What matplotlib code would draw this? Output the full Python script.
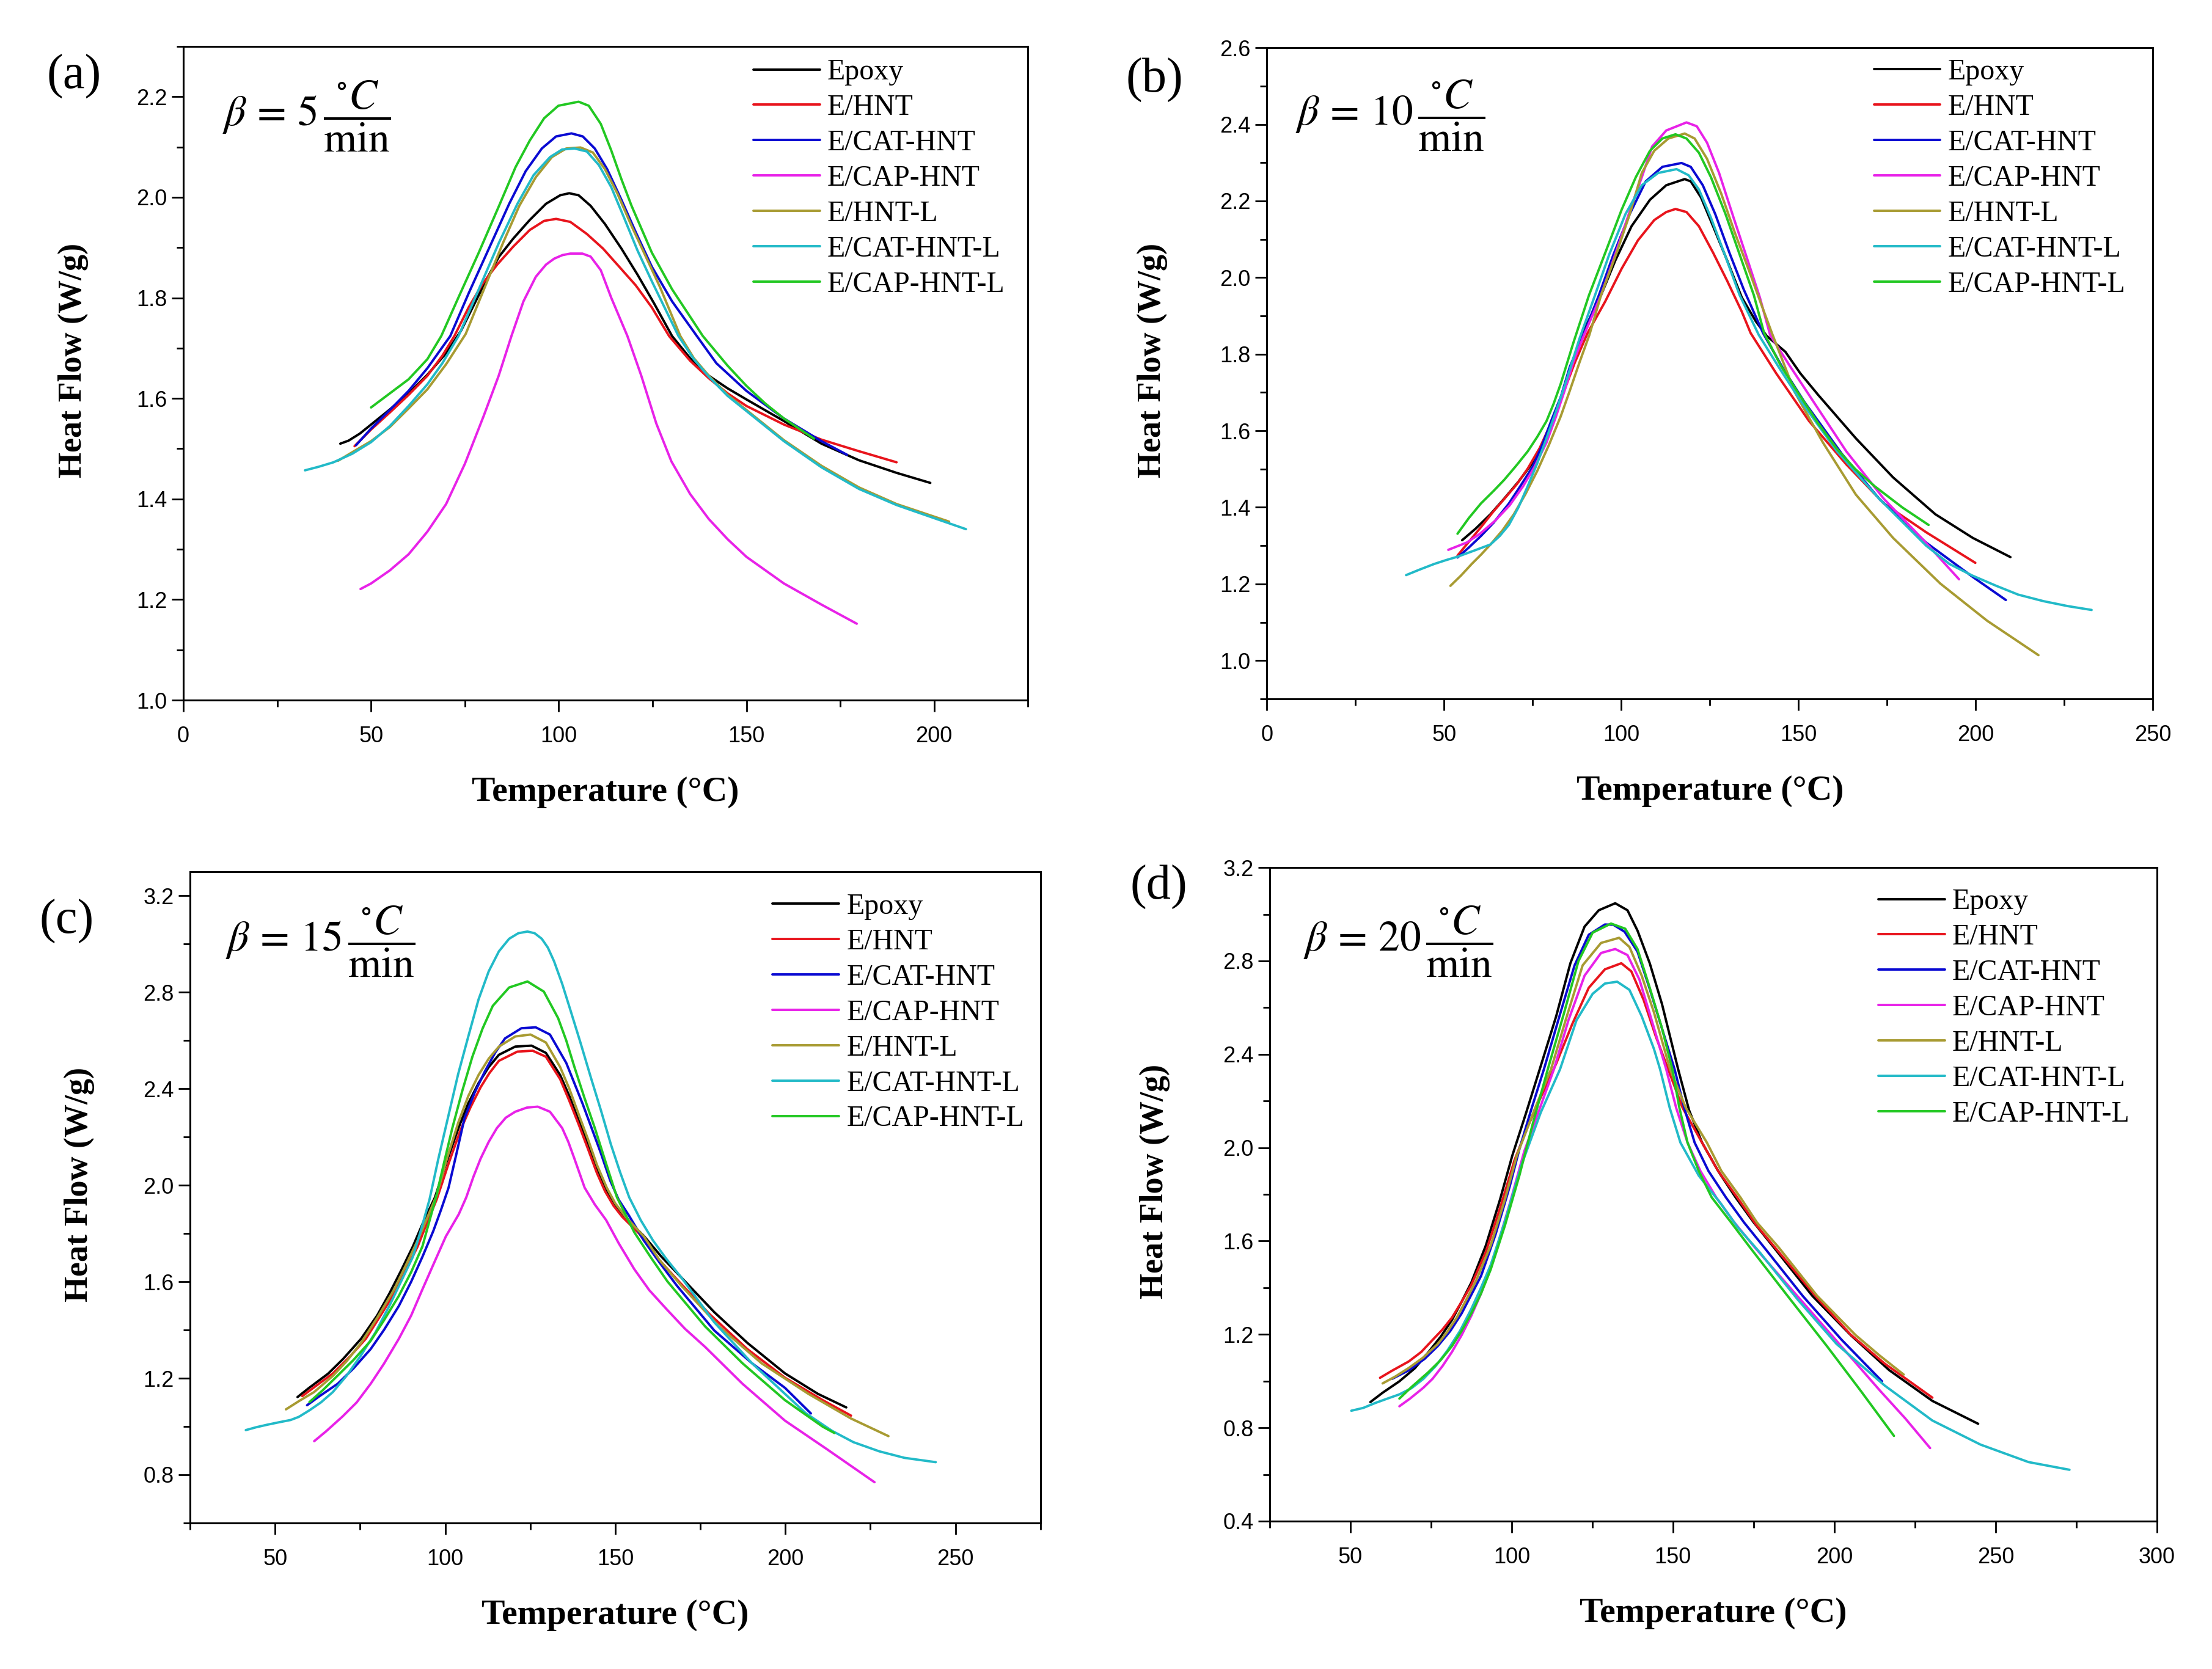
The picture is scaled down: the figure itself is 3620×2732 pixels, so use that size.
import matplotlib
matplotlib.use('Agg')
import matplotlib.pyplot as plt
from matplotlib.ticker import MultipleLocator, FormatStrFormatter

plt.rcParams['font.family'] = ['Liberation Serif', 'DejaVu Serif']
plt.rcParams['mathtext.fontset'] = 'stix'

labels = ['Epoxy', 'E/HNT', 'E/CAT-HNT', 'E/CAP-HNT', 'E/HNT-L', 'E/CAT-HNT-L', 'E/CAP-HNT-L']
colors = ['#000000', '#E8141C', '#0A0AD2', '#E822E8', '#A89B32', '#22BAC8', '#22C822']

# ---- (a) beta = 5 C/min ----
a_epoxy_t = [41.8, 44, 47, 50, 55, 60, 65, 70, 74, 78, 81, 84.1, 87.9, 92.3, 96.6, 100.4, 102.8, 105.3, 108.5, 112.3, 116.7, 121, 125.4, 130.2, 135, 140, 145, 150, 160, 170, 180, 190, 199]
a_epoxy_q = [1.51, 1.516, 1.53, 1.548, 1.578, 1.61, 1.647, 1.69, 1.735, 1.795, 1.84, 1.882, 1.918, 1.955, 1.987, 2.004, 2.008, 2.004, 1.983, 1.947, 1.898, 1.846, 1.789, 1.724, 1.68, 1.645, 1.62, 1.598, 1.555, 1.51, 1.477, 1.452, 1.432]
a_hnt_t = [45.6, 50, 55, 60, 65, 69, 72.2, 76, 79.8, 83.6, 87.9, 92.3, 96.1, 99.3, 103.1, 107.5, 111.8, 116.1, 120.5, 124.8, 129.4, 135, 140, 145, 150, 160, 170, 180, 190]
a_hnt_q = [1.505, 1.538, 1.572, 1.607, 1.645, 1.685, 1.724, 1.781, 1.829, 1.866, 1.902, 1.935, 1.953, 1.957, 1.951, 1.927, 1.898, 1.862, 1.825, 1.781, 1.724, 1.675, 1.64, 1.61, 1.585, 1.548, 1.518, 1.495, 1.473]
a_cat_t = [46, 50, 55, 60, 65, 71.1, 76, 81.4, 86.8, 91.2, 95.5, 99.3, 103.4, 106.4, 109.6, 112.9, 116.7, 120.5, 124.8, 130.2, 136.8, 142, 150, 160, 170, 176.8]
a_cat_q = [1.507, 1.54, 1.577, 1.615, 1.66, 1.724, 1.809, 1.898, 1.987, 2.052, 2.097, 2.121, 2.127, 2.121, 2.097, 2.056, 1.995, 1.931, 1.862, 1.793, 1.724, 1.67, 1.615, 1.56, 1.515, 1.488]
a_cap_t = [47.2, 50, 55, 60, 65, 70, 75, 80, 84, 87.4, 90.6, 93.9, 96.6, 98.8, 101, 103.1, 106.3, 108.5, 111.2, 114, 118.3, 122, 126, 130, 135, 140, 145, 150, 160, 170, 179.4]
a_cap_q = [1.221, 1.232, 1.258, 1.29, 1.335, 1.39, 1.47, 1.565, 1.645, 1.724, 1.793, 1.842, 1.866, 1.878, 1.885, 1.888, 1.888, 1.882, 1.855, 1.80, 1.724, 1.645, 1.55, 1.475, 1.41, 1.36, 1.32, 1.285, 1.232, 1.19, 1.152]
a_hntl_t = [41.2, 45, 50, 55, 60, 65, 70, 75.2, 80.3, 85.2, 89.5, 93.9, 98.2, 102, 105.8, 109.1, 112.3, 115.6, 119.4, 123.2, 127, 132.4, 136, 140, 145, 150, 160, 170, 180, 190, 200, 204]
a_hntl_q = [1.476, 1.493, 1.515, 1.543, 1.58, 1.618, 1.668, 1.728, 1.821, 1.91, 1.983, 2.04, 2.08, 2.097, 2.099, 2.089, 2.056, 2.008, 1.943, 1.882, 1.821, 1.724, 1.68, 1.645, 1.607, 1.577, 1.517, 1.466, 1.423, 1.39, 1.365, 1.355]
a_catl_t = [32.4, 36, 40, 45, 50, 55, 60, 65, 69, 73.3, 78.7, 84.1, 89, 93.3, 97.7, 100.9, 104.2, 107.5, 110.7, 114, 117.2, 121, 124.8, 131.9, 136, 140, 145, 150, 160, 170, 180, 190, 200, 208.5]
a_catl_q = [1.457, 1.464, 1.473, 1.49, 1.513, 1.545, 1.585, 1.628, 1.67, 1.724, 1.817, 1.91, 1.987, 2.044, 2.08, 2.095, 2.097, 2.091, 2.064, 2.02, 1.963, 1.894, 1.833, 1.724, 1.678, 1.643, 1.605, 1.575, 1.515, 1.463, 1.42, 1.388, 1.362, 1.34]
a_capl_t = [50, 55, 60, 65, 68.7, 73.3, 78.7, 84.1, 88.5, 92.3, 96.1, 99.9, 105.3, 108, 111.2, 114, 116.7, 119.4, 124.8, 130.2, 138.4, 145, 150, 155, 160, 165, 168]
a_capl_q = [1.582, 1.61, 1.638, 1.678, 1.724, 1.801, 1.89, 1.983, 2.06, 2.113, 2.157, 2.182, 2.19, 2.182, 2.146, 2.093, 2.036, 1.983, 1.89, 1.817, 1.724, 1.665, 1.625, 1.59, 1.56, 1.535, 1.52]

# ---- (b) beta = 10 C/min ----
b_epoxy_t = [55.1, 59, 63.1, 67, 71, 74.5, 77.6, 80.5, 82.9, 86.9, 89.5, 94.3, 98.3, 102.9, 108.1, 112.7, 117.9, 119.6, 122.5, 125.9, 129.9, 134, 138, 141, 146.3, 150.5, 155.6, 166.2, 176.7, 188.6, 199.2, 209.8]
b_epoxy_q = [1.314, 1.345, 1.382, 1.423, 1.467, 1.51, 1.563, 1.62, 1.682, 1.79, 1.863, 1.954, 2.044, 2.134, 2.203, 2.241, 2.257, 2.251, 2.209, 2.134, 2.044, 1.948, 1.885, 1.848, 1.806, 1.75, 1.693, 1.58, 1.478, 1.382, 1.32, 1.27]
b_hnt_t = [53.8, 57, 60.4, 64, 67, 70.5, 73.6, 77, 80.2, 83.5, 86.9, 90.5, 95.5, 100.1, 104.7, 109.3, 112.7, 115.3, 118.4, 121.9, 125.9, 129.9, 134, 136.5, 143.7, 153, 163.5, 174.1, 186, 199.9]
b_hnt_q = [1.274, 1.31, 1.348, 1.39, 1.422, 1.46, 1.501, 1.555, 1.62, 1.695, 1.778, 1.855, 1.938, 2.023, 2.097, 2.15, 2.171, 2.179, 2.171, 2.134, 2.065, 1.991, 1.911, 1.855, 1.75, 1.625, 1.512, 1.41, 1.335, 1.255]
b_cat_t = [53.8, 57, 60.4, 64, 68.3, 71.5, 75, 77.6, 80.2, 83, 85.5, 89.5, 93.7, 97.8, 102.4, 106.9, 111.6, 117, 119.6, 123, 126.5, 130.5, 134.5, 140, 145.5, 151.6, 162.2, 172.8, 186, 199.2, 208.5]
b_cat_q = [1.269, 1.295, 1.325, 1.36, 1.41, 1.455, 1.506, 1.56, 1.625, 1.69, 1.767, 1.855, 1.954, 2.06, 2.166, 2.251, 2.289, 2.299, 2.289, 2.241, 2.166, 2.065, 1.97, 1.855, 1.765, 1.676, 1.54, 1.422, 1.308, 1.218, 1.158]
b_cap_t = [51.2, 56.4, 60, 64.4, 68.5, 72.3, 75.5, 78.9, 81.5, 84.2, 86.5, 89.5, 94.3, 98.3, 102.9, 105.8, 108.7, 112.7, 118.4, 121.3, 124.2, 127.6, 131.7, 135.7, 139.1, 142, 147.5, 153, 163.5, 174.1, 184.7, 195.3]
b_cap_q = [1.289, 1.308, 1.33, 1.365, 1.405, 1.455, 1.505, 1.569, 1.635, 1.71, 1.78, 1.85, 1.954, 2.06, 2.187, 2.262, 2.342, 2.384, 2.405, 2.395, 2.352, 2.273, 2.156, 2.044, 1.948, 1.85, 1.77, 1.693, 1.546, 1.422, 1.32, 1.212]
b_hntl_t = [51.8, 54.8, 57.8, 60.5, 63.1, 66.5, 69.7, 73, 76.3, 79.6, 82.9, 85.5, 88.2, 91, 94.3, 98.9, 102.4, 105.8, 109.3, 113.3, 117.9, 120.7, 124.2, 128.2, 132.2, 136.3, 139.5, 142.5, 149, 156.9, 166.2, 176.7, 190, 203.2, 217.7]
b_hntl_q = [1.195, 1.222, 1.252, 1.277, 1.303, 1.34, 1.382, 1.435, 1.495, 1.563, 1.637, 1.705, 1.778, 1.85, 1.954, 2.07, 2.166, 2.273, 2.331, 2.363, 2.376, 2.363, 2.31, 2.219, 2.113, 2.012, 1.93, 1.855, 1.70, 1.569, 1.433, 1.32, 1.201, 1.104, 1.014]
b_catl_t = [39.3, 43, 47.2, 50.5, 53.8, 58.5, 63.1, 65.7, 68.3, 71, 73.6, 76.3, 78.9, 81.5, 84.2, 88.2, 92.6, 96.6, 101.2, 105.8, 110.4, 115.6, 119, 121.9, 125.3, 129.4, 133.4, 138.8, 144.5, 150.3, 160.9, 172.8, 186, 192.6, 199, 205.8, 212, 219.1, 226, 232.7]
b_catl_q = [1.223, 1.237, 1.252, 1.262, 1.271, 1.287, 1.303, 1.325, 1.354, 1.4, 1.455, 1.515, 1.58, 1.648, 1.722, 1.84, 1.954, 2.06, 2.166, 2.241, 2.273, 2.283, 2.267, 2.23, 2.156, 2.055, 1.954, 1.85, 1.765, 1.682, 1.546, 1.422, 1.3, 1.252, 1.222, 1.195, 1.172, 1.155, 1.142, 1.132]
b_capl_t = [53.8, 57, 60.4, 64, 67, 70.3, 73.6, 76.3, 78.9, 80.9, 82.9, 86.5, 90.9, 95.5, 100.1, 104.1, 108.1, 111.6, 115.3, 118.4, 121.9, 125.3, 129.4, 133.4, 137.4, 140.3, 145, 150.3, 155.5, 160.9, 166, 171.5, 179.4, 186.7]
b_capl_q = [1.331, 1.372, 1.41, 1.443, 1.472, 1.508, 1.546, 1.584, 1.625, 1.67, 1.722, 1.83, 1.954, 2.065, 2.177, 2.262, 2.331, 2.363, 2.374, 2.363, 2.326, 2.262, 2.166, 2.06, 1.954, 1.855, 1.77, 1.693, 1.62, 1.552, 1.5, 1.455, 1.399, 1.354]

# ---- (c) beta = 15 C/min ----
c_epoxy_t = [56.6, 60, 65.6, 70, 75.3, 80, 83.6, 87, 90.5, 93.5, 97, 100.5, 103.9, 106.8, 109.8, 112.8, 115.8, 120.6, 125.4, 129.6, 133.8, 136.5, 139.2, 142, 144.6, 147.5, 150, 153, 158.4, 163.5, 169.4, 179.1, 188.8, 199.9, 209.6, 217.9]
c_epoxy_q = [1.122, 1.16, 1.219, 1.28, 1.364, 1.46, 1.551, 1.645, 1.746, 1.845, 1.95, 2.1, 2.237, 2.34, 2.423, 2.49, 2.541, 2.575, 2.579, 2.549, 2.457, 2.37, 2.271, 2.17, 2.068, 1.975, 1.915, 1.865, 1.79, 1.705, 1.618, 1.474, 1.347, 1.22, 1.135, 1.079]
c_hnt_t = [58, 62, 67, 72, 76.7, 81, 85, 88.5, 91.9, 94.7, 97.5, 101, 104.5, 107.5, 110.4, 113, 115.8, 121.2, 125.7, 129.6, 133.8, 136.5, 139.2, 142, 144.6, 147, 149.5, 152, 157, 162, 168.1, 177.7, 188.8, 199.9, 211, 219.3]
c_hnt_q = [1.126, 1.168, 1.22, 1.29, 1.364, 1.46, 1.551, 1.65, 1.746, 1.845, 1.941, 2.09, 2.229, 2.325, 2.406, 2.465, 2.516, 2.554, 2.558, 2.533, 2.44, 2.35, 2.254, 2.15, 2.051, 1.975, 1.915, 1.87, 1.8, 1.705, 1.61, 1.466, 1.321, 1.202, 1.109, 1.045]
c_cat_t = [59.4, 63, 68.4, 73, 78.1, 82, 86.4, 90, 93.3, 96.5, 98.8, 101, 103.3, 105.7, 108.7, 111.7, 114.7, 117.6, 122.4, 126.6, 130.8, 135.6, 140.4, 145.7, 148.5, 151, 154, 158.4, 163, 168.1, 179.1, 190.2, 199.9, 207.5]
c_cat_q = [1.088, 1.125, 1.177, 1.24, 1.321, 1.4, 1.5, 1.6, 1.703, 1.81, 1.899, 1.99, 2.13, 2.279, 2.385, 2.473, 2.55, 2.609, 2.651, 2.655, 2.625, 2.507, 2.338, 2.136, 2.02, 1.94, 1.875, 1.771, 1.68, 1.584, 1.398, 1.262, 1.16, 1.054]
c_cap_t = [61.5, 65, 69.8, 74, 78.1, 82, 86.4, 90, 93.3, 96.8, 100.2, 104, 106.2, 108.3, 110.4, 112.8, 115.2, 117.8, 120.6, 124, 127.2, 130.8, 134.4, 136.2, 138, 141, 144, 147.3, 151, 155.6, 160, 165.3, 170.5, 176.4, 187.4, 199.9, 212.3, 226.2]
c_cap_q = [0.939, 0.98, 1.041, 1.1, 1.177, 1.26, 1.364, 1.46, 1.568, 1.68, 1.788, 1.88, 1.95, 2.035, 2.11, 2.18, 2.237, 2.28, 2.305, 2.322, 2.326, 2.305, 2.237, 2.18, 2.11, 1.99, 1.92, 1.856, 1.76, 1.652, 1.565, 1.483, 1.405, 1.33, 1.177, 1.024, 0.905, 0.769]
c_hntl_t = [53.2, 57, 61.5, 67, 71, 75.3, 80, 85, 88.5, 91.9, 97.5, 100.5, 103.9, 106.8, 109.8, 112.8, 115.8, 120.6, 125.1, 129.6, 133.8, 136.5, 139.2, 142, 144.6, 147.5, 150, 153, 158.4, 163, 169.4, 180.5, 193, 206.8, 219.3, 230.3]
c_hntl_q = [1.071, 1.105, 1.143, 1.21, 1.27, 1.347, 1.45, 1.568, 1.67, 1.771, 1.958, 2.11, 2.262, 2.37, 2.457, 2.525, 2.575, 2.617, 2.625, 2.592, 2.49, 2.4, 2.296, 2.19, 2.085, 1.99, 1.925, 1.87, 1.788, 1.69, 1.584, 1.415, 1.262, 1.135, 1.033, 0.96]
c_catl_t = [41.4, 44.5, 47.6, 51, 54.6, 57, 60.1, 63.5, 67, 71, 75.3, 79.5, 83.6, 87, 90.5, 93, 95.4, 98, 100.8, 103.8, 106.8, 109.8, 112.8, 115.8, 118.8, 121.5, 124.2, 126.3, 128.4, 130.2, 132, 134.4, 136.8, 139.8, 142.8, 145.8, 148.7, 151.4, 154.1, 157.5, 161.1, 165, 169.4, 179.1, 190.2, 199.9, 206, 213.7, 220, 227.6, 235, 244.2]
c_catl_q = [0.985, 0.997, 1.007, 1.017, 1.027, 1.04, 1.067, 1.1, 1.143, 1.21, 1.296, 1.39, 1.5, 1.6, 1.703, 1.82, 1.941, 2.11, 2.279, 2.46, 2.617, 2.77, 2.887, 2.97, 3.022, 3.045, 3.052, 3.045, 3.022, 2.985, 2.929, 2.835, 2.727, 2.59, 2.448, 2.31, 2.17, 2.055, 1.95, 1.855, 1.771, 1.695, 1.618, 1.432, 1.262, 1.135, 1.055, 0.982, 0.935, 0.897, 0.87, 0.852]
c_capl_t = [60.1, 64, 68.4, 73, 78.1, 82, 86.4, 90, 93.3, 97.3, 99.7, 102.1, 105, 108, 111, 114, 118.8, 124.2, 129, 133.2, 135.6, 138, 141, 144, 147.3, 150.5, 155.6, 160.5, 165.3, 176.4, 187.4, 199.9, 211, 214.4]
c_capl_q = [1.101, 1.15, 1.211, 1.275, 1.355, 1.44, 1.542, 1.64, 1.746, 1.95, 2.095, 2.237, 2.39, 2.533, 2.65, 2.744, 2.82, 2.845, 2.803, 2.693, 2.6, 2.49, 2.36, 2.237, 2.09, 1.95, 1.805, 1.7, 1.602, 1.415, 1.262, 1.109, 0.999, 0.973]

# ---- (d) beta = 20 C/min ----
d_epoxy_t = [56.2, 60, 65.2, 70, 74.1, 78, 81.5, 84.5, 87.5, 92, 96.4, 100.2, 104.5, 108.7, 113.8, 118.2, 122.6, 127, 132.1, 135.9, 139, 142.8, 146.6, 151.6, 155, 159, 164, 169.4, 175, 181.3, 193.2, 205.1, 217, 230.4, 244.6]
d_epoxy_q = [0.91, 0.95, 0.999, 1.055, 1.122, 1.19, 1.262, 1.34, 1.422, 1.581, 1.778, 1.966, 2.15, 2.336, 2.563, 2.79, 2.947, 3.017, 3.047, 3.017, 2.93, 2.79, 2.615, 2.336, 2.16, 2.022, 1.9, 1.787, 1.68, 1.572, 1.365, 1.197, 1.047, 0.915, 0.817]
d_hnt_t = [59.2, 63, 68.1, 72, 75.6, 78.5, 81.5, 84.5, 87.5, 92, 96.4, 100.9, 105, 109, 113.8, 118.8, 123.9, 128.9, 134, 137.1, 140.9, 144.7, 148.5, 153, 159, 164, 170, 176, 182.8, 194.7, 205, 215.6, 230.4]
d_hnt_q = [1.014, 1.045, 1.084, 1.125, 1.178, 1.22, 1.272, 1.34, 1.412, 1.553, 1.741, 1.947, 2.09, 2.215, 2.36, 2.53, 2.685, 2.764, 2.79, 2.755, 2.633, 2.476, 2.336, 2.17, 2.022, 1.9, 1.785, 1.665, 1.553, 1.356, 1.2, 1.075, 0.929]
d_cat_t = [63, 68.1, 73, 77.1, 81, 84.5, 87.5, 90.5, 95, 99.4, 102.4, 106, 110, 115, 119.5, 123.9, 128.9, 131.5, 135, 139, 142.8, 146.6, 150.5, 153.5, 156.7, 161, 166.4, 172, 178.3, 190.2, 202.2, 214.8]
d_cat_q = [1.01, 1.046, 1.095, 1.15, 1.215, 1.29, 1.37, 1.45, 1.628, 1.834, 1.994, 2.16, 2.336, 2.572, 2.781, 2.912, 2.956, 2.955, 2.925, 2.84, 2.68, 2.51, 2.336, 2.17, 2.022, 1.9, 1.787, 1.68, 1.572, 1.365, 1.178, 0.999]
d_cap_t = [65.2, 68.5, 72.6, 75.5, 78.6, 81.5, 84.5, 87.5, 90.5, 95, 99.4, 103.9, 108.5, 113.1, 117.6, 122.6, 127.7, 132.1, 135.9, 139.6, 143.4, 147.9, 151, 154.5, 158.5, 163.4, 169, 175.4, 187.3, 199.2, 214.1, 222, 229.7]
d_cap_q = [0.892, 0.925, 0.971, 1.01, 1.065, 1.125, 1.197, 1.28, 1.375, 1.553, 1.759, 1.984, 2.16, 2.336, 2.546, 2.737, 2.834, 2.851, 2.825, 2.72, 2.546, 2.336, 2.17, 2.022, 1.9, 1.787, 1.68, 1.572, 1.384, 1.196, 0.96, 0.84, 0.713]
d_hntl_t = [60, 64, 68.1, 72.5, 77.1, 80, 83, 86, 89, 93.5, 97.9, 101.6, 107, 112.2, 116.9, 122, 127.7, 133.3, 136.5, 140.3, 144.1, 149.1, 154, 160.5, 165, 170.9, 176, 182.8, 194.7, 206.6, 214, 221.5]
d_hntl_q = [0.99, 1.02, 1.056, 1.1, 1.159, 1.21, 1.272, 1.35, 1.431, 1.581, 1.778, 1.966, 2.16, 2.336, 2.554, 2.781, 2.877, 2.899, 2.86, 2.737, 2.58, 2.336, 2.17, 2.022, 1.9, 1.787, 1.68, 1.572, 1.365, 1.197, 1.11, 1.028]
d_catl_t = [50.3, 54, 57.7, 61.5, 65.2, 69, 72.6, 76.5, 80.1, 84, 87.5, 90.5, 93.5, 97.9, 103.1, 109, 115, 120.1, 125.1, 128.9, 132.7, 136.5, 140.3, 144.1, 146, 149, 152.3, 158, 164.9, 170, 176.8, 188.8, 200.7, 215.6, 230.4, 245.3, 260.2, 272.9]
d_catl_q = [0.873, 0.885, 0.906, 0.925, 0.943, 0.97, 1.009, 1.065, 1.131, 1.215, 1.309, 1.4, 1.497, 1.684, 1.928, 2.15, 2.336, 2.546, 2.659, 2.703, 2.711, 2.676, 2.563, 2.423, 2.336, 2.17, 2.022, 1.88, 1.759, 1.66, 1.553, 1.347, 1.159, 0.981, 0.831, 0.728, 0.653, 0.62]
d_capl_t = [65.2, 69, 74.1, 78, 81.5, 84.5, 87.5, 90.5, 93.5, 97.9, 102.4, 106.5, 111.2, 116.3, 120.7, 125.1, 130.8, 135.2, 139, 142.8, 146.6, 149.8, 152, 154.5, 158, 162, 168, 173.9, 185.8, 197.7, 208.1, 218.5]
d_capl_q = [0.925, 0.975, 1.037, 1.09, 1.15, 1.215, 1.29, 1.375, 1.478, 1.666, 1.881, 2.1, 2.336, 2.58, 2.799, 2.921, 2.96, 2.938, 2.851, 2.685, 2.511, 2.336, 2.17, 2.022, 1.9, 1.787, 1.68, 1.572, 1.36, 1.15, 0.96, 0.765]

panels = [
    dict(rect=[0.0829, 0.5805, 0.3818, 0.3917], xlim=(0, 225), ylim=(1.0, 2.3), ymaj=0.2,
         letter='(a)', letter_xy=(0.0334, 0.954), rate='5', rate_xy=(0.046, 0.893), leg_xy=(0.675, 0.981),
         curves=[(a_epoxy_t, a_epoxy_q), (a_hnt_t, a_hnt_q), (a_cat_t, a_cat_q), (a_cap_t, a_cap_q),
                 (a_hntl_t, a_hntl_q), (a_catl_t, a_catl_q), (a_capl_t, a_capl_q)]),
    dict(rect=[0.5727, 0.5813, 0.4006, 0.3901], xlim=(0, 250), ylim=(0.9, 2.6), ymaj=0.2,
         letter='(b)', letter_xy=(0.522, 0.952), rate='10', rate_xy=(0.032, 0.896), leg_xy=(0.685, 0.983),
         curves=[(b_epoxy_t, b_epoxy_q), (b_hnt_t, b_hnt_q), (b_cat_t, b_cat_q), (b_cap_t, b_cap_q),
                 (b_hntl_t, b_hntl_q), (b_catl_t, b_catl_q), (b_capl_t, b_capl_q)]),
    dict(rect=[0.0859, 0.0875, 0.3845, 0.3902], xlim=(25, 275), ylim=(0.6, 3.3), ymaj=0.4,
         letter='(c)', letter_xy=(0.0302, 0.4477), rate='15', rate_xy=(0.042, 0.893), leg_xy=(0.685, 0.967),
         curves=[(c_epoxy_t, c_epoxy_q), (c_hnt_t, c_hnt_q), (c_cat_t, c_cat_q), (c_cap_t, c_cap_q),
                 (c_hntl_t, c_hntl_q), (c_catl_t, c_catl_q), (c_capl_t, c_capl_q)]),
    dict(rect=[0.5740, 0.0886, 0.4011, 0.3916], xlim=(25, 300), ylim=(0.4, 3.2), ymaj=0.4,
         letter='(d)', letter_xy=(0.5238, 0.4682), rate='20', rate_xy=(0.038, 0.887), leg_xy=(0.686, 0.968),
         curves=[(d_epoxy_t, d_epoxy_q), (d_hnt_t, d_hnt_q), (d_cat_t, d_cat_q), (d_cap_t, d_cap_q),
                 (d_hntl_t, d_hntl_q), (d_catl_t, d_catl_q), (d_capl_t, d_capl_q)]),
]

fig = plt.figure(figsize=(36.2, 27.32), dpi=100)

for p in panels:
    ax = fig.add_axes(p['rect'])
    for (t, q), lab, col in zip(p['curves'], labels, colors):
        ax.plot(t, q, color=col, lw=2.8, label=lab, solid_capstyle='round')

    ax.set_xlim(*p['xlim'])
    ax.set_ylim(*p['ylim'])
    ax.xaxis.set_major_locator(MultipleLocator(50))
    ax.xaxis.set_minor_locator(MultipleLocator(25))
    ax.yaxis.set_major_locator(MultipleLocator(p['ymaj']))
    ax.yaxis.set_minor_locator(MultipleLocator(p['ymaj'] / 2))
    ax.yaxis.set_major_formatter(FormatStrFormatter('%.1f'))

    for s in ax.spines.values():
        s.set_linewidth(2.2)
    ax.tick_params(which='both', direction='out', top=False, right=False, width=2.0,
                   labelsize=26, labelfontfamily='Liberation Sans')
    ax.tick_params(which='major', length=14)
    ax.tick_params(which='minor', length=8)
    ax.tick_params(axis='x', pad=16)
    ax.tick_params(axis='y', pad=5)

    ax.set_xlabel('Temperature (°C)', fontsize=41.5, fontweight='bold')
    ax.xaxis.set_label_coords(0.5, -0.117)
    ax.set_ylabel('Heat Flow (W/g)', fontsize=39, fontweight='bold')
    ax.yaxis.set_label_coords(-0.112, 0.52)

    ax.legend(loc='upper left', bbox_to_anchor=p['leg_xy'], frameon=False, fontsize=34.5,
              handlelength=2.27, handletextpad=0.25, labelspacing=0.29,
              borderpad=0, borderaxespad=0)

    ax.text(p['rate_xy'][0], p['rate_xy'][1],
            r'$\beta\,=\,' + p['rate'] + r'\,\dfrac{{}^{\circ}C}{\mathrm{min}}$',
            transform=ax.transAxes, fontsize=50, ha='left', va='center')

    fig.text(p['letter_xy'][0], p['letter_xy'][1], p['letter'], fontsize=58,
             ha='center', va='center')

fig.savefig('out.png', dpi=100)
